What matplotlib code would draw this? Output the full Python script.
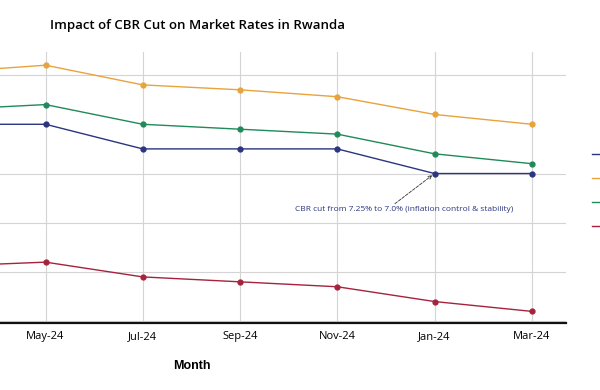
import matplotlib
matplotlib.use("Agg")
import matplotlib.pyplot as plt

months = ["Jan-24", "Mar-24", "May-24", "Jul-24", "Sep-24", "Nov-24", "Jan-24", "Mar-24"]
cbr = [7.5, 7.5, 7.5, 7.25, 7.25, 7.25, 7.0, 7.0]
lending = [8.0, 8.03, 8.1, 7.9, 7.85, 7.78, 7.6, 7.5]
interbank = [7.6, 7.65, 7.7, 7.5, 7.45, 7.4, 7.2, 7.1]
deposit = [6.0, 6.06, 6.1, 5.95, 5.9, 5.85, 5.7, 5.6]
series_names = ["Central Bank Rate (CBR)", "Lending Rate", "Interbank Rate", "Deposit Rate"]
yticks = [5.5, 6.0, 6.5, 7.0, 8.0]

colors = ["#2b3580", "#e8a33d", "#1f8a5a", "#a5233d"]

fig = plt.figure(figsize=(6, 3.9), dpi=100)
ax = fig.add_axes([-0.305, (390 - 323) / 390, 1.248, 271 / 390])
x = list(range(len(months)))
for vals, name, c in zip([cbr, lending, interbank, deposit], series_names, colors):
    ax.plot(x, vals, color=c, lw=1.0, marker="o", markersize=3.5, label=name)

ax.set_xlim(-0.35, 7.35)
ax.set_ylim(5.482, 8.234)
ax.set_xticks(x)
ax.set_xticklabels(months, fontfamily="Open Sans", fontsize=8)
ax.set_yticks(yticks)
ax.tick_params(length=0, pad=6)
ax.grid(True, color="#d4d4d4", lw=0.8)
ax.set_axisbelow(True)
for s in ["top", "right", "left"]:
    ax.spines[s].set_visible(False)
ax.spines["bottom"].set_linewidth(1.6)
ax.spines["bottom"].set_color("#111111")
ax.set_ylabel("Interest Rate (%)")
ax.set_xlabel("Month", fontfamily="Liberation Sans", fontweight="bold", fontsize=9, labelpad=12.5)

fig.text(50 / 600, 1 - 26 / 390, "Impact of CBR Cut on Market Rates in Rwanda",
         fontfamily="Open Sans", fontweight="semibold", fontsize=9.5, ha="left", va="center")

ax.annotate("CBR cut from 7.25% to 7.0% (inflation control & stability)",
            xy=(6, 7.0), xytext=(5.69, 6.63), textcoords="data",
            ha="center", va="center", fontsize=6, fontfamily="Open Sans", color="#2b3580",
            arrowprops=dict(arrowstyle="->", linestyle="--", lw=0.6, color="#333333",
                            relpos=(0.44, 1.0), shrinkA=0, shrinkB=2))

fig.legend(loc="upper left", bbox_to_anchor=(592 / 600, 1 - 149.4 / 390),
           bbox_transform=fig.transFigure, frameon=False, fontsize=8,
           borderaxespad=0, borderpad=0, labelspacing=1.26, handlelength=2)

fig.savefig("out.png", dpi=100)
